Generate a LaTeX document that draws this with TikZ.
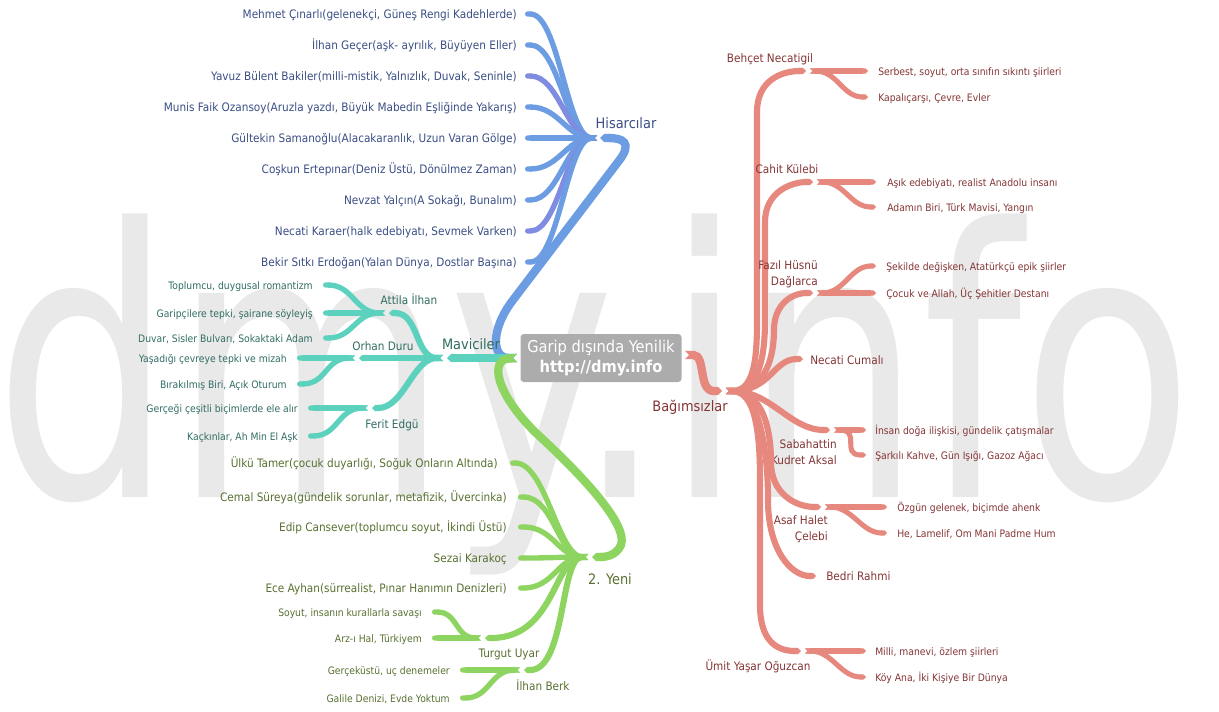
\documentclass[tikz,border=0pt]{standalone}
\usepackage{fontspec}
\setmainfont{DejaVu Sans Condensed}
\newfontfamily\wmfont{DejaVu Sans}
\usetikzlibrary{arrows.meta}
\definecolor{wm}{RGB}{233,233,233}
\definecolor{bbr}{RGB}{108,156,226}
\definecolor{bbr2}{RGB}{128,140,226}
\definecolor{btx}{RGB}{58,78,132}
\definecolor{tbr}{RGB}{92,210,190}
\definecolor{ttx}{RGB}{48,108,98}
\definecolor{gbr}{RGB}{142,212,96}
\definecolor{gtx}{RGB}{88,112,48}
\definecolor{rbr}{RGB}{231,136,126}
\definecolor{rtx}{RGB}{132,52,52}
\definecolor{boxg}{RGB}{172,172,172}
\newcommand\pxf[2]{\fontsize{#1}{#2}\selectfont}
\tikzset{
  mainb/.style={line width=6.2pt,{Triangle Cap[reversed]}-{Triangle Cap}},
  subb/.style={line width=4.6pt,{Triangle Cap[reversed]}-{Triangle Cap}},
  leafl/.style={line width=4pt,{Triangle Cap[reversed]}-{Round Cap}},
  leafr/.style={line width=3.8pt,{Triangle Cap[reversed]}-{Triangle Cap}},
  lf/.style={inner sep=0pt,text height=0.62em,text depth=0pt,font=\pxf{8.75pt}{12pt}},
  lfs/.style={inner sep=0pt,text height=0.62em,text depth=0pt,font=\pxf{7.7pt}{10pt}},
  sl/.style={inner sep=0pt,text height=0.62em,text depth=0pt,font=\pxf{8.75pt}{12pt}},
  slm/.style={inner sep=0pt,align=right,font=\pxf{8.75pt}{12pt}},
  ml/.style={inner sep=0pt,text height=0.62em,text depth=0pt,font=\pxf{10.8pt}{13pt}},
}
\begin{document}
\begin{tikzpicture}[x=0.75pt,y=-0.75pt]
\useasboundingbox (0,0) rectangle (1219,711);
% watermark
\node[anchor=base west,inner sep=0pt,xscale=0.756,text=wm,font=\wmfont\fontsize{280pt}{280pt}\selectfont] (wmk) at (-6,497) {dmy.info};

% root points
\coordinate (rootL) at (517,358);
\coordinate (rootR) at (685,355);

% ---------------- BLUE: Hisarcilar
\coordinate (hTip) at (600,138);
\coordinate (hJ) at (597,138);
\draw[mainb,bbr] (rootL) .. controls (492,358) and (490,330) .. (513,300) -- (618,162) .. controls (634,142) and (622,138) .. (hTip);
\node[ml,text=btx] (hisar) at (626,124) {Hisarcılar};
\foreach \yy/\cc/\lbl [count=\i] in {14/bbr/{Mehmet Çınarlı(gelenekçi, Güneş Rengi Kadehlerde)},45/bbr/{İlhan Geçer(aşk- ayrılık, Büyüyen Eller)},76/bbr2/{Yavuz Bülent Bakiler(milli-mistik, Yalnızlık, Duvak, Seninle)},107/bbr/{Munis Faik Ozansoy(Aruzla yazdı, Büyük Mabedin Eşliğinde Yakarış)},138/bbr/{Gültekin Samanoğlu(Alacakaranlık, Uzun Varan Gölge)},169/bbr/{Coşkun Ertepınar(Deniz Üstü, Dönülmez Zaman)},200/bbr/{Nevzat Yalçın(A Sokağı, Bunalım)},231/bbr2/{Necati Karaer(halk edebiyatı, Sevmek Varken)},262/bbr/{Bekir Sıtkı Erdoğan(Yalan Dünya, Dostlar Başına)}}{
  \coordinate (hl\i) at (525,\yy);
  \draw[leafl,\cc] (hJ) .. controls +(-30,0) and +(34,0) .. (hl\i);
  \node[lf,text=btx,anchor=east] (ht\i) at (517,\yy) {\lbl};
}

% ---------------- TEAL: Maviciler
\coordinate (mTip) at (447,358);
\coordinate (mJ) at (443,358);
\draw[mainb,tbr] (rootL) -- (mTip);
\node[ml,text=ttx] (mavi) at (471,345) {Maviciler};
% Attila Ilhan
\coordinate (aTip) at (389,313); \coordinate (aJ) at (385,313);
\draw[subb,tbr] (mJ) .. controls +(-28,0) and +(30,0) .. (aTip);
\node[sl,text=ttx] (attila) at (409,300) {Attila İlhan};
\foreach \yy/\lbl [count=\i] in {285/{Toplumcu, duygusal romantizm},313/{Garipçilere tepki, şairane söyleyiş},338/{Duvar, Sisler Bulvarı, Sokaktaki Adam}}{
  \coordinate (al\i) at (323,\yy);
  \draw[leafl,tbr] (aJ) .. controls +(-30,0) and +(30,0) .. (al\i);
  \node[lfs,text=ttx,anchor=east] (at\i) at (313,\yy) {\lbl};
}
% Orhan Duru
\coordinate (oTip) at (359,358); \coordinate (oJ) at (355,358);
\draw[subb,tbr] (mJ) -- (oTip);
\node[sl,text=ttx] (orhan) at (383,346) {Orhan Duru};
\foreach \yy/\lbl [count=\i] in {358/{Yaşadığı çevreye tepki ve mizah},384/{Bırakılmış Biri, Açık Oturum}}{
  \coordinate (ol\i) at (297,\yy);
  \draw[leafl,tbr] (oJ) .. controls +(-30,0) and +(30,0) .. (ol\i);
  \node[lfs,text=ttx,anchor=east] (ot\i) at (287,\yy) {\lbl};
}
% Ferit Edgu
\coordinate (fTip) at (372,408); \coordinate (fJ) at (368,408);
\draw[subb,tbr] (mJ) .. controls +(-30,0) and +(32,0) .. (fTip);
\node[sl,text=ttx] (ferit) at (392,424) {Ferit Edgü};
\foreach \yy/\lbl [count=\i] in {408/{Gerçeği çeşitli biçimlerde ele alır},436/{Kaçkınlar, Ah Min El Aşk}}{
  \coordinate (fl\i) at (308,\yy);
  \draw[leafl,tbr] (fJ) .. controls +(-30,0) and +(30,0) .. (fl\i);
  \node[lfs,text=ttx,anchor=east] (ft\i) at (298,\yy) {\lbl};
}

% ---------------- GREEN: 2. Yeni
\coordinate (yTip) at (592,557);
\coordinate (yJ) at (588,557);
\draw[mainb,gbr] (rootL) .. controls (490,360) and (495,392) .. (535,432) .. controls (585,478) and (628,525) .. (621,545) .. controls (616,556) and (605,557) .. (yTip);
\node[ml,text=gtx] (yeni) at (610,580) {2. Yeni};
\foreach \yy/\xx/\tx/\lbl [count=\i] in {463/510/498/{Ülkü Tamer(çocuk duyarlığı, Soğuk Onların Altında)},497/518/507/{Cemal Süreya(gündelik sorunlar, metafizik, Üvercinka)},527/518/507/{Edip Cansever(toplumcu soyut, İkindi Üstü)},558/518/507/{Sezai Karakoç},588/518/507/{Ece Ayhan(sürrealist, Pınar Hanımın Denizleri)}}{
  \coordinate (yl\i) at (\xx,\yy);
  \draw[leafl,gbr] (yJ) .. controls +(-30,0) and +(36,0) .. (yl\i);
  \node[lf,text=gtx,anchor=east] (yt\i) at (\tx,\yy) {\lbl};
}
% Turgut Uyar
\coordinate (tTip) at (485,638); \coordinate (tJ) at (481,638);
\draw[subb,gbr] (yJ) .. controls +(-34,0) and +(70,0) .. (tTip);
\node[sl,text=gtx] (turgut) at (509,653) {Turgut Uyar};
\foreach \yy/\lbl [count=\i] in {612/{Soyut, insanın kurallarla savaşı},638/{Arz-ı Hal, Türkiyem}}{
  \coordinate (tl\i) at (432,\yy);
  \draw[leafl,gbr] (tJ) .. controls +(-26,0) and +(26,0) .. (tl\i);
  \node[lfs,text=gtx,anchor=east] (tt\i) at (422,\yy) {\lbl};
}
% Ilhan Berk
\coordinate (iTip) at (524,670); \coordinate (iJ) at (520,670);
\draw[subb,gbr] (yJ) .. controls +(-28,0) and +(42,0) .. (iTip);
\node[sl,text=gtx] (berk) at (543,686) {İlhan Berk};
\foreach \yy/\lbl [count=\i] in {670/{Gerçeküstü, uç denemeler},698/{Galile Denizi, Evde Yoktum}}{
  \coordinate (il\i) at (460,\yy);
  \draw[leafl,gbr] (iJ) .. controls +(-30,0) and +(30,0) .. (il\i);
  \node[lfs,text=gtx,anchor=east] (it\i) at (450,\yy) {\lbl};
}

% ---------------- RED: Bagimsizlar
\coordinate (bTip) at (722,391);
\coordinate (bJ) at (726,391);
\draw[mainb,rbr] (rootR) .. controls (706,355) and (698,391) .. (bTip);
\node[ml,text=rtx] (bagim) at (690,407) {Bağımsızlar};

% Behcet Necatigil
\coordinate (s1Tip) at (806,71); \coordinate (s1J) at (810,71);
\draw[subb,rbr] (bJ) .. controls +(28,0) and +(0,40) .. (757,320) -- (757,112) .. controls +(0,-32) and +(-24,0) .. (s1Tip);
\node[sl,text=rtx] (behcet) at (770,58) {Behçet Necatigil};
% Cahit Kulebi
\coordinate (s2Tip) at (813,182); \coordinate (s2J) at (817,182);
\draw[subb,rbr] (bJ) .. controls +(32,0) and +(0,40) .. (765,320) -- (765,222) .. controls +(0,-30) and +(-22,0) .. (s2Tip);
\node[sl,text=rtx] (cahit) at (787,169) {Cahit Külebi};
% Fazil Husnu Daglarca
\coordinate (s3Tip) at (813,293); \coordinate (s3J) at (817,293);
\draw[subb,rbr] (bJ) .. controls +(38,0) and +(0,30) .. (774,330) .. controls +(0,-25) and +(-22,0) .. (s3Tip);
\node[slm,text=rtx,anchor=north east] (fazil) at (818,260.5) {Fazıl Hüsnü\\Dağlarca};
% Necati Cumali
\coordinate (s4Tip) at (803,359);
\draw[subb,rbr] (bJ) .. controls +(45,0) and +(-30,0) .. (s4Tip);
\node[sl,text=rtx,anchor=west] (necati) at (810,360) {Necati Cumalı};
% Sabahattin Kudret Aksal
\coordinate (s5Tip) at (830,430); \coordinate (s5J) at (834,430);
\draw[subb,rbr] (bJ) .. controls +(45,0) and +(-40,0) .. (s5Tip);
\node[slm,text=rtx,anchor=north east] (sabah) at (837,439.5) {Sabahattin\\Kudret Aksal};
% Asaf Halet Celebi
\coordinate (s6Tip) at (821,507); \coordinate (s6J) at (825,507);
\draw[subb,rbr] (bJ) .. controls +(38,0) and +(0,-30) .. (771,462) .. controls +(0,32) and +(-25,0) .. (s6Tip);
\node[slm,text=rtx,anchor=north east] (asaf) at (828,515.5) {Asaf Halet\\Çelebi};
% Bedri Rahmi
\coordinate (s7Tip) at (816,576);
\draw[subb,rbr] (bJ) .. controls +(36,0) and +(0,-40) .. (768,500) .. controls +(0,50) and +(-25,0) .. (s7Tip);
\node[sl,text=rtx,anchor=west] (bedri) at (826,576) {Bedri Rahmi};
% Umit Yasar Oguzcan
\coordinate (s8Tip) at (801,651); \coordinate (s8J) at (805,651);
\draw[subb,rbr] (bJ) .. controls +(30,0) and +(0,-45) .. (760,480) -- (760,605) .. controls +(0,35) and +(-25,0) .. (s8Tip);
\node[sl,text=rtx] (umit) at (758,666) {Ümit Yaşar Oğuzcan};

% red leaves
\foreach \jj/\xe/\xt/\ya/\yb/\la/\lb in {
 s1J/868/878/71/97/{Serbest, soyut, orta sınıfın sıkıntı şiirleri}/{Kapalıçarşı, Çevre, Evler},
 s2J/876/887/182/207/{Aşık edebiyatı, realist Anadolu insanı}/{Adamın Biri, Türk Mavisi, Yangın},
 s3J/876/886/293/266/{Çocuk ve Allah, Üç Şehitler Destanı}/{Şekilde değişken, Atatürkçü epik şiirler},
 s5J/866/875/430/455/{İnsan doğa ilişkisi, gündelik çatışmalar}/{Şarkılı Kahve, Gün Işığı, Gazoz Ağacı},
 s6J/887/897/507/533/{Özgün gelenek, biçimde ahenk}/{He, Lamelif, Om Mani Padme Hum},
 s8J/866/875/651/677/{Milli, manevi, özlem şiirleri}/{Köy Ana, İki Kişiye Bir Dünya}}{
  \coordinate (\jj a) at (\xe,\ya);
  \coordinate (\jj b) at (\xe,\yb);
  \draw[leafr,rbr] (\jj) -- (\jj a);
  \draw[leafr,rbr] (\jj) .. controls +(28,0) and +(-26,0) .. (\jj b);
  \node[lfs,text=rtx,anchor=west] (\jj ta) at (\xt,\ya) {\la};
  \node[lfs,text=rtx,anchor=west] (\jj tb) at (\xt,\yb) {\lb};
}

% ---------------- center
\node[fill=boxg,rounded corners=2.5pt,minimum width=120.75pt,minimum height=36pt,inner sep=0pt,align=center,text=white,font=\pxf{12.2pt}{15.5pt}] (center) at (601,358) {Garip dışında Yenilik\\{\bfseries http://dmy.info}};
\end{tikzpicture}
\end{document}
